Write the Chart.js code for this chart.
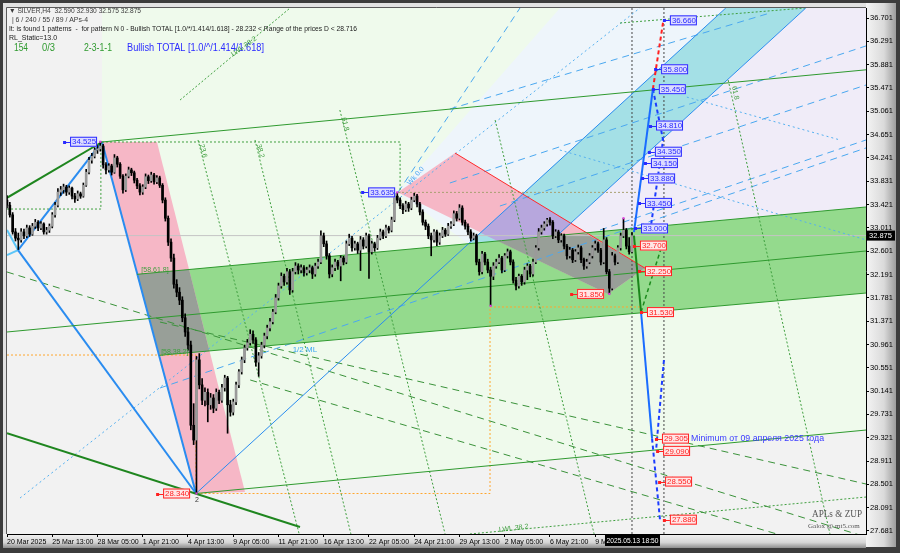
<!DOCTYPE html>
<html>
<head>
<meta charset="utf-8">
<script src="https://cdn.jsdelivr.net/npm/chart.js@4.4.1/dist/chart.umd.min.js"></script>
<style>
html, body { margin: 0; padding: 0; background: #3a3a3a; }
canvas { display: block; }
</style>
</head>
<body>
<canvas id="silverChart" width="900" height="553"></canvas>
<script>
// SILVER H4 bars, index 0 = 20 Mar 2025 21:00, index 221 = 13 May 2025 17:00
const opens = [
  33.50,33.41,33.24,32.94,32.83,32.80,32.94,32.87,33.01,32.90, 33.04,33.11,33.01,33.08,32.94,32.97,33.04,33.24,33.41,33.64,
  33.68,33.73,33.64,33.71,33.57,33.52,33.61,33.57,33.76,33.99, 34.20,34.27,34.38,34.40,34.45,34.12,34.03,34.10,33.99,34.24,
  34.13,33.92,33.68,33.92,34.03,33.98,33.85,33.75,33.64,33.73, 33.91,33.84,33.94,33.82,33.89,33.76,33.50,33.18,32.76,32.48,
  32.02,31.88,31.74,31.43,31.18,30.95,29.54,29.28,30.69,30.25, 29.98,30.12,29.90,30.02,29.84,30.12,29.98,30.20,30.37,29.90,
  29.77,29.95,30.25,30.48,30.69,30.90,30.99,31.14,31.04,30.65, 30.76,30.95,31.11,31.25,31.36,31.53,31.78,31.99,32.16,32.06,
  32.24,31.92,32.24,32.34,32.27,32.31,32.22,32.27,32.31,32.20, 32.34,32.41,32.87,32.73,32.52,32.20,32.31,32.41,32.34,32.48,
  32.41,32.73,32.83,32.66,32.73,32.62,32.80,32.69,32.87,32.59, 32.73,32.66,32.83,32.94,32.87,33.01,32.97,33.15,33.57,33.50,
  33.40,33.33,33.43,33.36,33.50,33.57,33.43,33.29,33.11,33.04, 32.87,32.80,32.94,32.76,32.87,32.97,32.90,33.04,33.08,33.26,
  33.18,33.36,33.11,33.04,32.94,32.83,32.87,32.41,32.24,32.55, 32.41,32.27,32.16,32.34,32.41,32.48,32.27,32.52,32.59,32.41,
  32.09,31.99,32.16,32.06,32.27,32.34,32.20,32.41,32.66,32.94, 33.01,33.08,33.15,33.11,32.87,32.94,32.80,32.87,32.69,32.52,
  32.62,32.45,32.59,32.66,32.45,32.34,32.41,32.52,32.66,32.73, 32.62,32.41,32.80,32.24,31.95,32.52,32.41,32.66,32.87,32.97,
  32.69,32.59
];
const highs = [
  33.58,33.46,33.28,33.00,32.92,33.00,32.99,33.06,33.05,33.09, 33.16,33.14,33.12,33.10,33.02,33.08,33.28,33.46,33.70,33.74,
  33.78,33.76,33.75,33.73,33.62,33.66,33.64,33.80,34.04,34.25, 34.32,34.42,34.46,34.525,34.48,34.16,34.14,34.13,34.30,34.27,
  34.16,33.95,33.96,34.08,34.06,34.01,33.88,33.79,33.77,33.96, 33.94,33.99,33.97,33.93,33.92,33.79,33.54,33.22,32.82,32.55,
  32.10,31.96,31.80,31.50,31.26,31.02,29.92,30.75,30.80,30.36, 30.20,30.18,30.10,30.08,30.18,30.16,30.26,30.42,30.40,29.98,
  30.00,30.30,30.52,30.74,30.95,31.05,31.22,31.20,31.08,30.82, 31.00,31.16,31.30,31.42,31.58,31.84,32.04,32.22,32.20,32.30,
  32.28,32.30,32.40,32.38,32.36,32.35,32.32,32.36,32.34,32.39, 32.46,32.96,32.92,32.78,32.56,32.36,32.46,32.44,32.52,32.51,
  32.78,32.90,32.86,32.78,32.76,32.86,32.84,32.92,32.90,32.78, 32.76,32.88,32.99,32.97,33.06,33.04,33.20,33.62,33.635,33.54,
  33.44,33.48,33.46,33.55,33.62,33.60,33.46,33.33,33.15,33.08, 32.92,32.98,32.97,32.92,33.02,33.00,33.09,33.12,33.31,33.30,
  33.42,33.40,33.15,33.08,32.98,32.92,32.90,32.46,32.60,32.58, 32.46,32.32,32.40,32.46,32.54,32.51,32.56,32.64,32.62,32.45,
  32.14,32.20,32.19,32.32,32.38,32.37,32.46,32.70,33.00,33.06, 33.12,33.18,33.19,33.14,32.98,32.97,32.91,32.90,32.72,32.67,
  32.65,32.63,32.71,32.69,32.48,32.46,32.56,32.70,32.78,32.76, 32.65,33.00,32.84,32.28,32.58,32.55,32.70,32.92,33.18,33.00,
  32.84,32.93
];
const lows = [
  33.36,33.20,32.90,32.78,32.63,32.76,32.82,32.84,32.86,32.88, 33.00,32.96,32.98,32.90,32.90,32.93,33.01,33.20,33.38,33.58,
  33.62,33.58,33.60,33.52,33.46,33.49,33.53,33.55,33.74,33.96, 34.15,34.24,34.32,34.36,34.06,33.96,33.99,33.94,33.97,34.08,
  33.88,33.62,33.65,33.89,33.93,33.80,33.70,33.59,33.60,33.70, 33.79,33.81,33.78,33.79,33.72,33.45,33.13,32.70,32.42,31.95,
  31.80,31.66,31.36,31.10,30.86,29.46,29.20,28.34,30.18,29.90, 29.88,29.60,29.82,29.76,29.80,29.92,29.94,30.14,29.40,29.70,
  29.72,29.90,30.20,30.44,30.64,30.86,30.95,30.98,30.58,30.40, 30.72,30.90,31.06,31.20,31.32,31.50,31.74,31.95,32.00,32.02,
  31.84,31.88,32.20,32.20,32.22,32.16,32.18,32.22,32.12,32.16, 32.30,32.38,32.68,32.46,32.13,32.15,32.26,32.28,32.08,32.36,
  32.38,32.70,32.60,32.62,32.56,32.26,32.64,32.66,32.12,32.55, 32.60,32.63,32.80,32.82,32.84,32.92,32.94,33.12,33.45,33.35,
  33.26,33.30,33.30,33.33,33.47,33.38,33.24,33.06,32.98,32.82, 32.52,32.76,32.70,32.72,32.84,32.86,32.88,33.00,33.05,33.13,
  33.15,33.06,32.99,32.89,32.78,32.80,32.36,32.18,32.20,32.36, 32.22,31.64,32.10,32.30,32.38,32.22,32.24,32.48,32.36,32.04,
  31.92,31.95,32.00,32.02,32.10,32.15,32.16,32.38,32.62,32.90, 32.97,33.04,33.06,32.82,32.84,32.75,32.76,32.64,32.46,32.48,
  32.40,32.42,32.55,32.40,32.28,32.30,32.38,32.48,32.62,32.58, 32.36,32.38,32.20,31.85,31.92,32.36,32.38,32.62,32.84,32.64,
  32.55,32.575
];
const closes = [
  33.41,33.24,32.94,32.83,32.80,32.94,32.87,33.01,32.90,33.04, 33.11,33.01,33.08,32.94,32.97,33.04,33.24,33.41,33.64,33.68,
  33.73,33.64,33.71,33.57,33.52,33.61,33.57,33.76,33.99,34.20, 34.27,34.38,34.40,34.45,34.12,34.03,34.10,33.99,34.24,34.13,
  33.92,33.68,33.92,34.03,33.98,33.85,33.75,33.64,33.73,33.91, 33.84,33.94,33.82,33.89,33.76,33.50,33.18,32.76,32.48,32.02,
  31.88,31.74,31.43,31.18,30.95,29.54,29.28,30.69,30.25,29.98, 30.12,29.90,30.02,29.84,30.12,29.98,30.20,30.37,29.90,29.77,
  29.95,30.25,30.48,30.69,30.90,30.99,31.14,31.04,30.65,30.76, 30.95,31.11,31.25,31.36,31.53,31.78,31.99,32.16,32.06,32.24,
  31.92,32.24,32.34,32.27,32.31,32.22,32.27,32.31,32.20,32.34, 32.41,32.87,32.73,32.52,32.20,32.31,32.41,32.34,32.48,32.41,
  32.73,32.83,32.66,32.73,32.62,32.80,32.69,32.87,32.59,32.73, 32.66,32.83,32.94,32.87,33.01,32.97,33.15,33.57,33.50,33.40,
  33.33,33.43,33.36,33.50,33.57,33.43,33.29,33.11,33.04,32.87, 32.80,32.94,32.76,32.87,32.97,32.90,33.04,33.08,33.26,33.18,
  33.36,33.11,33.04,32.94,32.83,32.87,32.41,32.24,32.55,32.41, 32.27,32.16,32.34,32.41,32.48,32.27,32.52,32.59,32.41,32.09,
  31.99,32.16,32.06,32.27,32.34,32.20,32.41,32.66,32.94,33.01, 33.08,33.15,33.11,32.87,32.94,32.80,32.87,32.69,32.52,32.62,
  32.45,32.59,32.66,32.45,32.34,32.41,32.52,32.66,32.73,32.62, 32.41,32.80,32.24,31.95,32.52,32.41,32.66,32.87,32.97,32.69,
  32.59,32.875
];

// axis ticks
const yTicks = [27.681, 28.091, 28.501, 28.911, 29.321, 29.731, 30.141, 30.551, 30.961, 31.371, 31.781, 32.191,
  32.601, 33.011, 33.421, 33.831, 34.241, 34.651, 35.061, 35.471, 35.881, 36.291, 36.701];
const xTickBars = [0, 16, 32, 48, 64, 80, 96, 112, 128, 144, 160, 176, 192, 208];
const xTickLabels = ['20 Mar 2025', '25 Mar 13:00', '28 Mar 05:00', '1 Apr 21:00', '4 Apr 13:00', '9 Apr 05:00',
  '11 Apr 21:00', '16 Apr 13:00', '22 Apr 05:00', '24 Apr 21:00', '29 Apr 13:00', '2 May 05:00', '6 May 21:00', '9 May 13:00'];

// price targets shown as tags: [level, bar index of tag]
const blueTargets = [[36.660, 234.4], [35.800, 231.3], [35.450, 230.5], [34.810, 229.5], [34.350, 229.1],
  [34.150, 227.7], [33.880, 226.7], [33.450, 225.6], [33.000, 224.2]];
const redTargets = [[32.700, 223.8], [32.250, 225.6], [31.530, 226.3], [29.305, 231.6], [29.090, 232.0],
  [28.550, 232.7], [27.880, 234.4]];
const pivotTags = [[34.525, 22.3, 'blue'], [33.635, 127.7, 'blue'], [31.850, 201.6, 'red'], [28.340, 55.2, 'red']];
const pivotBars = [33, 67, 138, 171, 213, 218];
const pivotPrices = [34.525, 28.34, 33.635, 31.64, 31.85, 33.18];

// filled zones: [upper chain, lower chain] in (bar, price)
const zoneLightGreen = [[[33.59, 36.877], [303.75, 36.877]], [[33.59, 34.521], [66.83, 28.34], [303.75, 29.456]]];
const zoneLightBlue = [[[138.26, 33.635], [195.55, 36.877], [254.17, 36.877]], [[138.26, 33.635], [163.08, 32.732], [254.17, 36.877]]];
const zoneCyan = [[[163.08, 32.732], [254.17, 36.877], [282.46, 36.877]], [[163.08, 32.732], [194.59, 32.877], [282.46, 36.877]]];
const zoneLavender = [[[194.59, 32.877], [282.46, 36.877], [303.75, 36.877]], [[194.59, 32.877], [303.75, 33.378]]];
const zoneBand = [[[45.97, 32.194], [303.75, 33.378]], [[45.97, 32.194], [53.93, 30.77], [303.75, 31.865]]];
const zonePink1 = [[[33.59, 34.521], [53.04, 34.521], [84.16, 28.366]], [[33.59, 34.521], [66.83, 28.34], [84.16, 28.366]]];
const zoneGray1 = [[[45.97, 32.194], [64.37, 32.279], [71.6, 30.847]], [[45.97, 32.194], [53.93, 30.77], [71.6, 30.847]]];
const zonePink2 = [[[138.26, 33.635], [158.42, 34.327], [225.6, 32.305]], [[138.26, 33.635], [212.52, 31.85], [225.6, 32.305]]];
const zonePurple = [[[167.36, 32.927], [182.35, 33.608], [199.39, 33.095]], [[167.36, 32.927], [173.51, 32.78], [194.59, 32.877], [199.39, 33.095]]];
const zoneGray2 = [[[173.51, 32.78], [205.06, 32.901], [225.6, 32.305]], [[173.51, 32.78], [212.52, 31.85], [225.6, 32.305]]];

// drawn lines in (bar, price)
const greenThick = [[[0, 33.54], [33.59, 34.521]], [[0, 29.40], [103.6, 27.75]]];
const greenThin = [[[33.59, 34.521], [303.75, 35.79]], [[66.83, 28.34], [303.75, 29.456]], [[0, 31.18], [303.75, 32.604]],
  [[45.97, 32.194], [303.75, 33.378]], [[53.93, 30.77], [303.75, 31.865]]];
const greenDashed = [[[0, 32.235], [303.75, 27.575]], [[54.1, 31.355], [303.75, 28.507]], [[86, 30.336], [303.75, 27.17]]];
const greenDotted = [[[67.54, 34.556], [103.3, 27.63]], [[87.7, 34.556], [121.6, 27.63]], [[117.7, 35.083], [154.9, 27.63]],
  [[172.6, 34.907], [207.6, 27.63]], [[255.0, 35.611], [291.0, 27.63]], [[0, 33.342], [33.2, 33.342], [33.2, 34.521]],
  [[33.59, 34.521], [139, 34.521], [139, 33.635]], [[61.2, 35.259], [100.1, 36.877]], [[163.7, 27.628], [303.75, 28.278]],
  [[216.8, 36.613], [282.2, 36.877]]];
const oliveDotted = [[[138.26, 33.635], [224, 33.635]]];
const orangeDotted = [[[0, 30.775], [66.83, 30.775], [66.83, 28.34], [170.8, 28.34], [170.8, 31.62], [223.8, 31.62]]];
const lastPriceLine = [[[0, 32.875], [303.75, 32.875]]];
const timeMarkers = [[[221, 27.628], [221, 36.877]], [[232.3, 27.628], [232.3, 36.877]]];
const blueFork = [[[3.9, 32.62], [33.59, 34.521]], [[3.9, 32.62], [66.83, 28.34]], [[33.59, 34.521], [66.83, 28.34]]];
const blueThin = [[[66.83, 28.34], [254.17, 36.877]], [[194.59, 32.877], [282.46, 36.877]]];
const lightBlueDashed = [[[54.1, 30.195], [303.75, 34.416]], [[156.6, 33.80], [303.75, 36.21]], [[174.3, 33.395], [303.75, 35.523]],
  [[209.7, 32.973], [303.75, 34.556]], [[156.6, 35.101], [269.8, 36.789]], [[138.26, 33.635], [181.4, 36.877]]];
const lightBlueDotted = [[[4.6, 28.26], [223.8, 36.877]], [[240.4, 35.31], [294.6, 34.556]], [[195.5, 34.38], [303.75, 32.80]]];
const lightBlueThick = [[[0, 32.973], [3.9, 32.62]], [[0, 32.534], [3.9, 32.62]]];
const redEdge = [[[158.42, 34.327], [227, 32.26]]];
const redProjection = [[[228.4, 35.453], [232.1, 36.66]]];
const blueProjection = [[[221.7, 32.938], [228.4, 35.453]], [[224.2, 31.531], [228.1, 29.305]]];
const blueProjectionDashed = [[[228.4, 35.453], [232, 34.556], [227.4, 32.938]], [[228.1, 29.305], [230.9, 27.88]], [[232.3, 30.687], [229.5, 29.09]]];
const greenProjection = [[[221.7, 32.875], [224.2, 31.531]]];
const greenProjectionDashed = [[[224.2, 31.531], [231.6, 32.70]]];

const toPts = (list) => list.map(([x, y]) => ({ x, y }));

function zoneSets(zone, color, order) {
    return [
        { type: 'line', data: toPts(zone[0]), borderColor: 'rgba(0,0,0,0)', borderWidth: 0, pointRadius: 0, fill: '+1', backgroundColor: color, order },
        { type: 'line', data: toPts(zone[1]), borderColor: 'rgba(0,0,0,0)', borderWidth: 0, pointRadius: 0, fill: false, order }
    ];
}

function lineSets(list, color, width, dash, order) {
    return list.map((pts) => ({
        type: 'line', data: toPts(pts), borderColor: color, borderWidth: width, borderDash: dash,
        pointRadius: 0, fill: false, tension: 0, order
    }));
}

const barIdx = closes.map((c, i) => i);
const datasets = [
    ...zoneSets(zoneLightGreen, '#effaec', 100),
    ...zoneSets(zoneLightBlue, '#eef5fb', 99),
    ...zoneSets(zoneCyan, '#a4e0e6', 98),
    ...zoneSets(zoneLavender, '#f0ecf8', 97),
    ...zoneSets(zoneBand, '#94da8d', 90),
    ...zoneSets(zonePink1, '#f6b7c6', 80),
    ...zoneSets(zonePink2, '#f6b7c6', 80),
    ...zoneSets(zonePurple, '#b7a7dd', 70),
    ...zoneSets(zoneGray1, '#989f98', 70),
    ...zoneSets(zoneGray2, '#989f98', 70),
    ...lineSets(lastPriceLine, '#c4c4c4', 1, [], 60),
    ...lineSets(greenDashed, '#3a923a', 1, [7, 5], 55),
    ...lineSets(greenDotted, '#3f9f3f', 1, [2, 2], 55),
    ...lineSets(oliveDotted, '#a8a070', 1, [2, 2], 55),
    ...lineSets(orangeDotted, '#ffa62e', 1, [2, 2], 55),
    ...lineSets(lightBlueDashed, '#4aa8f0', 1, [7, 5], 55),
    ...lineSets(lightBlueDotted, '#55b0f0', 1, [2, 3], 55),
    ...lineSets(timeMarkers, '#444444', 1, [2, 2], 55),
    ...lineSets(greenThin, '#2f9a2f', 1, [], 45),
    ...lineSets(greenThick, '#1f861f', 2, [], 45),
    ...lineSets(blueThin, '#2a8cf0', 1, [], 45),
    ...lineSets(blueFork, '#2a8cf0', 2, [], 45),
    ...lineSets(lightBlueThick, '#5cc6f8', 2, [], 45),
    ...lineSets(redEdge, '#ff2a2a', 1, [], 45),
    {
        type: 'bar', data: barIdx.map((i) => ({ x: i, y: [lows[i], highs[i]] })),
        backgroundColor: '#000000', barThickness: 1, grouped: false, order: 20
    },
    {
        type: 'bar', data: barIdx.map((i) => ({ x: i, y: [opens[i], closes[i]] })),
        backgroundColor: barIdx.map((i) => (closes[i] >= opens[i] ? '#9a9a9a' : '#000000')),
        barThickness: 2, minBarLength: 1, grouped: false, order: 19
    },
    {
        type: 'line', data: pivotBars.map((b, k) => ({ x: b, y: pivotPrices[k] })), showLine: false,
        pointStyle: 'rect', pointRadius: 1.5, pointBackgroundColor: '#e03ee0', pointBorderWidth: 0, order: 15
    },
    ...lineSets(redProjection, '#ff2020', 2, [4, 3], 10),
    ...lineSets(blueProjectionDashed, '#1c3cff', 2, [4, 3], 10),
    ...lineSets(greenProjectionDashed, '#1c8a1c', 1.5, [4, 3], 10),
    ...lineSets(blueProjection, '#1a6cff', 2, [], 9),
    ...lineSets(greenProjection, '#1a861a', 2, [], 9)
];

const framePlugin = {
    id: 'frame',
    beforeDraw(chart) {
        const { ctx, chartArea: a } = chart;
        ctx.save();
        ctx.fillStyle = '#3c3c3c';
        ctx.fillRect(0, 0, 900, 553);
        ctx.fillStyle = '#e2e2e2';
        ctx.fillRect(3, 3, 892, 544);
        const gr = ctx.createLinearGradient(a.right, 0, 896, 0);
        gr.addColorStop(0, '#f4f4f4');
        gr.addColorStop(0.6, '#dadada');
        gr.addColorStop(1, '#9c9c9c');
        ctx.fillStyle = gr;
        ctx.fillRect(a.right, 3, 896 - a.right, 544);
        const gb = ctx.createLinearGradient(0, a.bottom, 0, 548);
        gb.addColorStop(0, '#f2f2f2');
        gb.addColorStop(0.6, '#d6d6d6');
        gb.addColorStop(1, '#8e8e8e');
        ctx.fillStyle = gb;
        ctx.fillRect(3, a.bottom, a.right - 3, 548 - a.bottom);
        ctx.fillStyle = '#f2f2f2';
        ctx.fillRect(a.left, a.top, a.right - a.left, a.bottom - a.top);
        ctx.restore();
    }
};

function tag(ctx, x, y, text, fg, bg) {
    const w = 27, h = 10;
    ctx.fillStyle = bg;
    ctx.fillRect(x, y - h / 2, w, h);
    ctx.strokeStyle = fg;
    ctx.lineWidth = 1;
    ctx.strokeRect(x + 0.5, y - h / 2 + 0.5, w - 1, h - 1);
    ctx.beginPath();
    ctx.moveTo(x - 6, Math.round(y) + 0.5);
    ctx.lineTo(x, Math.round(y) + 0.5);
    ctx.stroke();
    ctx.fillStyle = fg;
    ctx.fillRect(x - 7, Math.round(y) - 1, 3, 3);
    ctx.font = '8px "Liberation Sans"';
    ctx.textAlign = 'left';
    ctx.textBaseline = 'middle';
    ctx.fillText(text, x + 2, y + 0.5, w - 3);
}

const textPlugin = {
    id: 'texts',
    afterDraw(chart) {
        const { ctx, chartArea: a } = chart;
        const xs = chart.scales.x, ys = chart.scales.y;
        ctx.save();
        // plot frame
        ctx.strokeStyle = '#5a5a5a';
        ctx.lineWidth = 1;
        ctx.beginPath();
        ctx.moveTo(a.left - 0.5, a.bottom);
        ctx.lineTo(a.left - 0.5, a.top - 0.5);
        ctx.lineTo(a.right, a.top - 0.5);
        ctx.stroke();

        ctx.textBaseline = 'middle';
        ctx.textAlign = 'left';
        ctx.fillStyle = '#3a3a3a';
        ctx.font = '7px "Liberation Sans"';
        ctx.fillText('\u25BC SILVER,H4  32.590 32.930 32.575 32.875', 9, 11, 132);
        ctx.fillText(' | 6 / 240 / 55 / 89 / APs-4', 10, 20, 78);
        ctx.fillStyle = '#202020';
        ctx.fillText('It: is found 1 patterns  -  for pattern N 0 - Bullish TOTAL [1.0/*/1.414/1.618] - 28.232 < Range of the prices D < 28.716', 9, 29, 348);
        ctx.fillText('RL_Static=13.0', 9, 38, 52);
        ctx.font = '10px "Liberation Sans"';
        ctx.fillStyle = '#2f9a2f';
        ctx.fillText('154', 14, 48, 14);
        ctx.fillText('0/3', 42, 48, 13);
        ctx.fillText('2-3-1-1', 84, 48, 28);
        ctx.fillStyle = '#2b2bff';
        ctx.fillText('Bullish TOTAL [1.0/^/1.414/1.618]', 127, 48, 137);

        // small line captions
        ctx.font = '7px "Liberation Sans"';
        ctx.fillStyle = '#3f9f3f';
        ctx.fillText('[58.61.8]', xs.getPixelForValue(47.5), ys.getPixelForValue(32.27), 30);
        ctx.fillText('[58.38.2]', xs.getPixelForValue(54.5), ys.getPixelForValue(30.82), 30);
        const rotText = (t, bx, py, ang, color) => {
            ctx.save();
            ctx.translate(xs.getPixelForValue(bx), ys.getPixelForValue(py));
            ctx.rotate(ang);
            ctx.fillStyle = color;
            ctx.fillText(t, 0, 0);
            ctx.restore();
        };
        rotText('LWL 38.2', 79.5, 36.05, -0.62, '#3f9f3f');
        rotText('LWL 38.2', 174, 27.70, -0.12, '#3f9f3f');
        rotText('23.6', 68.8, 34.48, 1.32, '#3f9f3f');
        rotText('38.2', 89, 34.48, 1.33, '#3f9f3f');
        rotText('61.8', 119, 34.95, 1.33, '#3f9f3f');
        rotText('61.8', 257, 35.50, 1.35, '#3f9f3f');
        rotText('Wk 0.0', 142, 33.78, -0.85, '#4aa8f0');
        ctx.font = '8px "Liberation Sans"';
        ctx.fillStyle = '#3aa6f2';
        ctx.fillText('1/2 ML', xs.getPixelForValue(101), ys.getPixelForValue(30.87));
        ctx.fillStyle = '#333333';
        ctx.font = '7px "Liberation Sans"';
        ctx.fillText('2', xs.getPixelForValue(66.5), ys.getPixelForValue(28.22));

        // target tags
        blueTargets.forEach(([v, b]) => tag(ctx, xs.getPixelForValue(b), ys.getPixelForValue(v), v.toFixed(3), '#2a2aff', '#dcdcff'));
        redTargets.forEach(([v, b]) => tag(ctx, xs.getPixelForValue(b), ys.getPixelForValue(v), v.toFixed(3), '#ff2020', '#ffe6e6'));
        pivotTags.forEach(([v, b, c]) => {
            const blue = c === 'blue';
            tag(ctx, xs.getPixelForValue(b), ys.getPixelForValue(v), v.toFixed(3), blue ? '#2a2aff' : '#ff2020', blue ? '#dcdcff' : '#ffe6e6');
        });
        ctx.font = '9.5px "Liberation Sans"';
        ctx.fillStyle = '#3b3bff';
        ctx.textBaseline = 'middle';
        ctx.fillText('Minimum \u043e\u0442 09 \u0430\u043f\u0440\u0435\u043b\u044f 2025 \u0433\u043e\u0434\u0430', xs.getPixelForValue(241.9), ys.getPixelForValue(29.305), 133);

        ctx.fillStyle = '#555555';
        ctx.font = '10px "Liberation Serif"';
        ctx.fillText('APLs & ZUP', 812, 514, 50);
        ctx.font = '7px "Liberation Serif"';
        ctx.fillText('Galox @ mt5.com', 808, 526, 56);

        // current price and time boxes
        const py = ys.getPixelForValue(closes[closes.length - 1]);
        ctx.fillStyle = '#000000';
        ctx.fillRect(a.right, py - 5, 29, 10);
        ctx.fillStyle = '#ffffff';
        ctx.font = '7.5px "Liberation Sans"';
        ctx.fillText(closes[closes.length - 1].toFixed(3), a.right + 3, py + 0.5, 24);
        const tx = xs.getPixelForValue(221);
        ctx.fillStyle = '#000000';
        ctx.fillRect(tx - 27, a.bottom + 1, 55, 11);
        ctx.fillStyle = '#ffffff';
        ctx.textAlign = 'center';
        ctx.fillText('2025.05.13 18:50', tx + 0.5, a.bottom + 7, 52);
        ctx.restore();
    }
};

Chart.defaults.font.family = '"Liberation Sans", Arial, sans-serif';

new Chart(document.getElementById('silverChart'), {
    type: 'line',
    data: { datasets },
    options: {
        responsive: false,
        animation: false,
        events: [],
        layout: { padding: { left: 7, top: 8, right: 0, bottom: 0 } },
        plugins: {
            legend: { display: false },
            tooltip: { enabled: false }
        },
        scales: {
            x: {
                type: 'linear',
                offset: false,
                min: 0,
                max: 303.75,
                afterBuildTicks: (scale) => { scale.ticks = xTickBars.map((v) => ({ value: v })); },
                afterFit: (scale) => {
                    scale.height = 19;
                    scale.paddingLeft = 0;
                    scale.paddingRight = 0;
                },
                ticks: {
                    autoSkip: false,
                    maxRotation: 0,
                    align: 'start',
                    padding: 1,
                    color: '#000000',
                    font: { size: 7 },
                    callback: (value, index) => xTickLabels[index]
                },
                grid: { offset: false, drawOnChartArea: false, tickLength: 3, color: '#000000' },
                border: { display: true, color: '#000000' }
            },
            y: {
                type: 'linear',
                position: 'right',
                min: 27.628,
                max: 36.877,
                afterBuildTicks: (scale) => { scale.ticks = yTicks.map((v) => ({ value: v })); },
                afterFit: (scale) => {
                    scale.width = 34;
                    scale.paddingTop = 0;
                    scale.paddingBottom = 0;
                },
                ticks: {
                    padding: 1,
                    color: '#000000',
                    font: { size: 7.5 },
                    callback: (value) => Number(value).toFixed(3)
                },
                grid: { drawOnChartArea: false, tickLength: 3, color: '#000000' },
                border: { display: true, color: '#000000' }
            }
        }
    },
    plugins: [framePlugin, textPlugin]
});
</script>
</body>
</html>
